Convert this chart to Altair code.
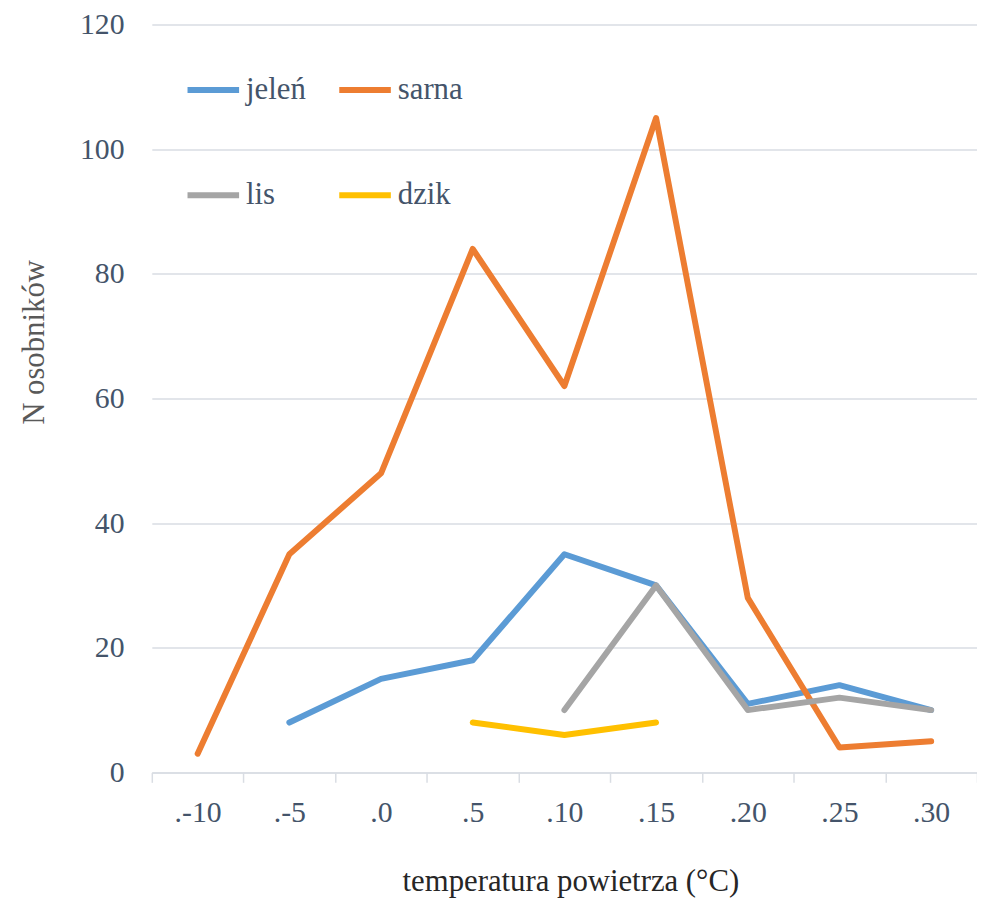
import altair as alt
import pandas as pd

categories = [".-10", ".-5", ".0", ".5", ".10", ".15", ".20", ".25", ".30"]
series_names = ["jeleń", "sarna", "lis", "dzik"]
series_colors = ["#5b9bd5", "#ed7d31", "#a5a5a5", "#ffc000"]

jelen = [None, 8, 15, 18, 35, 30, 11, 14, 10]
sarna = [3, 35, 48, 84, 62, 105, 28, 4, 5]
lis = [None, None, None, None, 10, 30, 10, 12, 10]
dzik = [None, None, None, 8, 6, 8, None, None, None]

rows = []
for name, vals in zip(series_names, [jelen, sarna, lis, dzik]):
    for i, (c, v) in enumerate(zip(categories, vals)):
        if v is not None:
            rows.append({"temp": c, "n": v, "gatunek": name, "idx": i})
df = pd.DataFrame(rows)

FONT = "'Liberation Serif', 'Times New Roman', 'DejaVu Serif', serif"
LABEL_COLOR = "#44546a"
GRID = "#d9dde3"

W, H = 832, 754

chart = alt.Chart(df).mark_line(strokeWidth=6, strokeCap="round", strokeJoin="round").encode(
    x=alt.X("temp:N", sort=categories, scale=alt.Scale(domain=categories, paddingInner=0, paddingOuter=0),
            axis=alt.Axis(title="temperatura powietrza (°C)", labelAngle=0, labelFontSize=30,
                          labelColor=LABEL_COLOR, labelFont=FONT, labelPadding=16,
                          domainColor=GRID, domainWidth=1.5, tickColor=GRID, tickWidth=1.5,
                          tickSize=10, tickBand="extent", grid=False,
                          titleFont=FONT, titleFontSize=31, titleFontWeight="normal",
                          titleColor="#262626", titleX=422, titleY=110,
                          titleBaseline="middle", titleAlign="center")),
    y=alt.Y("n:Q", scale=alt.Scale(domain=[0, 120], nice=False),
            axis=alt.Axis(title="N osobników", values=[0, 20, 40, 60, 80, 100, 120],
                          labelFontSize=30, labelColor=LABEL_COLOR, labelFont=FONT,
                          labelPadding=28, domain=False, ticks=False,
                          grid=True, gridColor=GRID, gridWidth=1.5,
                          titleFont=FONT, titleFontSize=31, titleFontWeight="normal",
                          titleColor="#595959", titleX=-118, titleY=320,
                          titleBaseline="middle", titleAlign="center", titleAngle=-90)),
    color=alt.Color("gatunek:N", scale=alt.Scale(domain=series_names, range=series_colors),
                    legend=alt.Legend(title=None, orient="none", legendX=33, legendY=37,
                                      direction="horizontal",
                                      columns=2, columnPadding=21, rowPadding=62,
                                      symbolType="stroke", symbolSize=2704, symbolStrokeWidth=6,
                                      labelFont=FONT, labelFontSize=31, labelColor=LABEL_COLOR,
                                      labelOffset=4, padding=0)),
    detail="gatunek:N",
    order="idx:Q",
).properties(
    width=W, height=H,
    autosize=alt.AutoSizeParams(type="none"),
    padding={"left": 145, "top": 13, "right": 0, "bottom": 130},
).configure_view(stroke=None)

chart.save("out.html", embed_options={"renderer": "svg", "actions": False})
